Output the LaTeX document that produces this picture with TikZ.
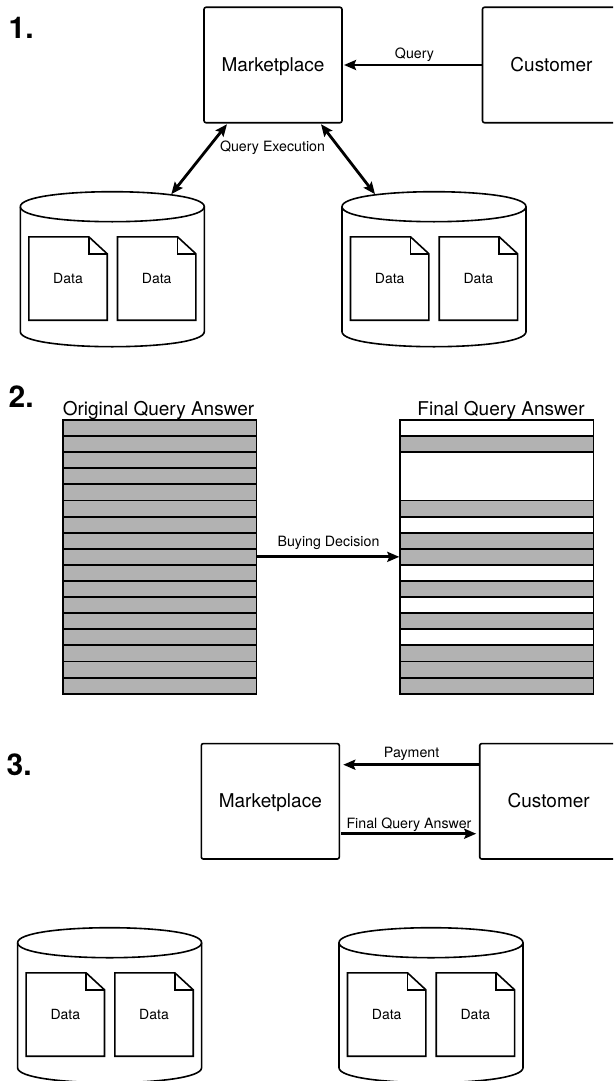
\documentclass[tikz,border=0pt]{standalone}
\usepackage{fontspec}
\setmainfont{TeX Gyre Heros}
\usetikzlibrary{arrows.meta,calc}
\tikzset{
  box/.style={draw=black,line width=1.6pt,rounded corners=2pt,fill=white,outer sep=0pt,inner sep=0pt,
    minimum width=#1,minimum height=115.4pt,font=\fontsize{19}{19}\selectfont,text height=14pt,text depth=1pt},
  frameline/.style={draw=black,line width=1.6pt,fill=white},
  hold/.style={inner sep=0pt,outer sep=0pt,minimum width=#1},
  doctext/.style={font=\fontsize{14}{14}\selectfont,inner sep=0pt,text height=10pt,text depth=0pt},
  small/.style={font=\fontsize{14.2}{14}\selectfont,inner sep=0pt,text height=10pt,text depth=1pt},
  numeral/.style={font=\fontsize{30}{30}\selectfont\bfseries,inner sep=0pt,anchor=base west},
  heading/.style={font=\fontsize{19}{19}\selectfont,inner sep=0pt,text height=14pt,text depth=1pt},
  rowg/.style={draw=black,line width=1.9pt,fill=black!30,outer sep=0pt,inner sep=0pt,minimum width=193.2pt,minimum height=#1,anchor=north west},
  roww/.style={draw=black,line width=1.9pt,fill=white,outer sep=0pt,inner sep=0pt,minimum width=193.2pt,minimum height=#1,anchor=north west},
  flow/.style={line width=2.8pt,-{Stealth[length=12pt,width=10pt,inset=2pt]}},
  flowboth/.style={line width=2.8pt,{Stealth[length=12pt,width=10pt,inset=2pt]}-{Stealth[length=12pt,width=10pt,inset=2pt]}},
}
\newcommand{\docnote}[3]{%
  \node[doctext,minimum width=78pt,minimum height=83pt] (#1) at (#2+39,#3+41.5) {Data};
  \draw[frameline,fill=none] (#1.north west) -- ++(60,0) -- ($(#1.north east)+(0,17)$) -- (#1.south east) -- (#1.south west) -- cycle;
  \draw[frameline,fill=none] ($(#1.north west)+(60,0)$) -- ++(0,17) -- ($(#1.north east)+(0,17)$);
}
\newcommand{\drum}[3]{%
  \node[hold=184pt,minimum height=155pt] (#1) at (#2+92,#3+77.5) {};
  \draw[frameline] (#2,#3+15) .. controls (#2,#3-5) and (#2+184,#3-5) .. (#2+184,#3+15)
    -- (#2+184,#3+140) .. controls (#2+184,#3+160) and (#2,#3+160) .. (#2,#3+140) -- cycle;
  \draw[frameline,fill=none] (#2,#3+15) .. controls (#2,#3+35) and (#2+184,#3+35) .. (#2+184,#3+15);
  \docnote{#1a}{#2+8.7}{#3+45.3}
  \docnote{#1b}{#2+97.4}{#3+45.3}
}
\begin{document}
\begin{tikzpicture}[x=1pt,y=-1pt]
\useasboundingbox (0,0) rectangle (613,1081);
\clip (0,0) rectangle (613,1081);
% ---- panel 1
\node[numeral] (n1) at (8.5,38) {1.};
\node[box=138pt] (mpa) at (273,65) {Marketplace};
\node[box=138pt] (cua) at (551.5,65) {Customer};
\drum{ca}{20.3}{191.7}
\drum{cb}{342}{191.7}
\draw[flow] (cua.west) -- ([xshift=2pt]mpa.east);
\node[small] (qa) at (414.5,54.5) {Query};
\draw[flowboth] ([xshift=23pt,yshift=-1.5pt]mpa.south west) -- ([xshift=-33pt,yshift=-2.5pt]ca.north east);
\draw[flowboth] ([xshift=-21pt,yshift=-1.5pt]mpa.south east) -- ([xshift=33pt,yshift=-2.5pt]cb.north west);
\node[small] (qe) at (272.5,147) {Query Execution};
% ---- panel 2
\node[numeral] (n2) at (8.5,407.5) {2.};
\node[heading] (tl) at (158.5,409) {Original Query Answer};
\node[heading] (tr) at (501,409) {Final Query Answer};
\foreach \i in {1,...,17} {
  \node[rowg=16.1pt] (L\i) at (63.3,{420+(\i-1)*16.1}) {};
}
\foreach \i/\st/\sp in {1/roww/1,2/rowg/1,3/roww/3,6/rowg/1,7/roww/1,8/rowg/1,9/rowg/1,10/roww/1,11/rowg/1,12/roww/1,13/rowg/1,14/roww/1,15/rowg/1,16/rowg/1,17/rowg/1} {
  \pgfmathsetmacro{\hh}{16.1*\sp}
  \node[\st=\hh pt] (R\i) at (400.3,{420+(\i-1)*16.1}) {};
}
\draw[flow] (L9.east) -- ([xshift=-1pt]R9.west);
\node[small] (bd) at (328.5,542) {Buying Decision};
% ---- panel 3
\node[numeral] (n3) at (6.5,775) {3.};
\node[box=138pt] (mpc) at (270.3,801.3) {Marketplace};
\node[box=138pt] (cuc) at (548.7,801.3) {Customer};
\draw[flow] ([yshift=36.6pt]cuc.west) -- ([xshift=4pt,yshift=36.6pt]mpc.east);
\draw[flow] ([xshift=1.5pt,yshift=-32.4pt]mpc.east) -- ([xshift=-3.5pt,yshift=-32.4pt]cuc.west);
\node[small] (pay) at (411.6,753) {Payment};
\node[small] (fq) at (409,824) {Final Query Answer};
\drum{cc}{17.6}{927.7}
\drum{cd}{339}{927.7}
\end{tikzpicture}
\end{document}
